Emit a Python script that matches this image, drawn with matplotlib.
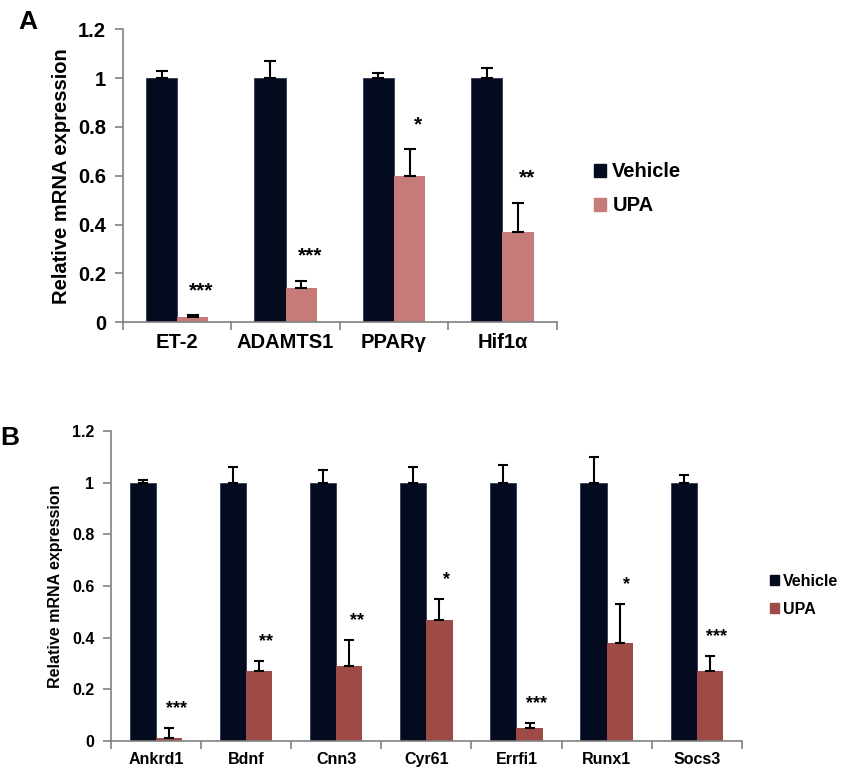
import numpy as np
import matplotlib
matplotlib.use('Agg')
import matplotlib.pyplot as plt
from matplotlib.patches import Patch

plt.rcParams['font.family'] = ['Liberation Sans', 'DejaVu Sans']
plt.rcParams['font.weight'] = 'bold'

# panel A data
genes_a = ['ET-2', 'ADAMTS1', 'PPARγ', 'Hif1α']
veh_a = [1.0, 1.0, 1.0, 1.0]
veh_a_err = [0.03, 0.07, 0.02, 0.04]
upa_a = [0.02, 0.14, 0.60, 0.37]
upa_a_err = [0.01, 0.03, 0.11, 0.12]
stars_a = ['***', '***', '*', '**']

# panel B data
genes_b = ['Ankrd1', 'Bdnf', 'Cnn3', 'Cyr61', 'Errfi1', 'Runx1', 'Socs3']
veh_b = [1.0, 1.0, 1.0, 1.0, 1.0, 1.0, 1.0]
veh_b_err = [0.01, 0.06, 0.05, 0.06, 0.07, 0.10, 0.03]
upa_b = [0.01, 0.27, 0.29, 0.47, 0.05, 0.38, 0.27]
upa_b_err = [0.04, 0.04, 0.10, 0.08, 0.02, 0.15, 0.06]
stars_b = ['***', '**', '**', '*', '***', '*', '***']

navy = '#050b1e'
pink = '#c77b78'
brick = '#9e4a47'
grey = '#808080'


def panel(ax, genes, veh, veh_err, upa, upa_err, stars, upa_col, fs, star_fs, w, cap, star_off):
    n = len(genes)
    x = np.arange(n) + 0.5
    ax.bar(x - w / 2, veh, w, color=navy, edgecolor='#1a2a4a', linewidth=0.5)
    ax.bar(x + w / 2, upa, w, color=upa_col)
    ax.errorbar(x - w / 2, veh, yerr=[np.zeros(n), veh_err], fmt='none',
                ecolor='black', elinewidth=1.5, capsize=cap, capthick=1.5)
    ax.errorbar(x + w / 2, upa, yerr=[np.zeros(n), upa_err], fmt='none',
                ecolor='black', elinewidth=1.5, capsize=cap, capthick=1.5)
    for xi, u, e, s in zip(x, upa, upa_err, stars):
        ax.text(xi + w / 2 + 0.08, u + e + star_off, s, ha='center', va='center',
                fontsize=star_fs, fontweight='bold')
    ax.set_xlim(0, n)
    ax.set_ylim(0, 1.2)
    ax.set_yticks([0, 0.2, 0.4, 0.6, 0.8, 1, 1.2])
    ax.set_yticklabels(['0', '0.2', '0.4', '0.6', '0.8', '1', '1.2'])
    ax.set_xticks(np.arange(n + 1))
    ax.set_xticklabels([])
    ax.set_xticks(x, minor=True)
    ax.set_xticklabels(genes, minor=True)
    ax.tick_params(axis='x', which='minor', length=0, pad=8, labelsize=fs)
    ax.tick_params(axis='x', which='major', length=6, color=grey, width=1.2)
    ax.tick_params(axis='y', length=6, color=grey, width=1.2, labelsize=fs, pad=6)
    for sp in ['top', 'right']:
        ax.spines[sp].set_visible(False)
    for sp in ['left', 'bottom']:
        ax.spines[sp].set_color(grey)
        ax.spines[sp].set_linewidth(1.2)
    ax.set_ylabel('Relative mRNA expression', fontsize=fs, fontweight='bold')


fig = plt.figure(figsize=(8.41, 7.71), dpi=100)

ax_a = fig.add_axes([0.146, 0.582, 0.516, 0.38])
panel(ax_a, genes_a, veh_a, veh_a_err, upa_a, upa_a_err, stars_a, pink, 14.5, 15, 0.286, 4, 0.1)
ax_a.yaxis.set_label_coords(-0.12, 0.5)

ax_b = fig.add_axes([0.132, 0.039, 0.75, 0.402])
panel(ax_b, genes_b, veh_b, veh_b_err, upa_b, upa_b_err, stars_b, brick, 11.5, 13, 0.29, 3.5, 0.075)
ax_b.yaxis.set_label_coords(-0.076, 0.5)

h_a = [Patch(color=navy, label='Vehicle'), Patch(color=pink, label='UPA')]
fig.legend(handles=h_a, loc='center left', bbox_to_anchor=(0.685, 0.755), frameon=False,
           fontsize=14.5, handlelength=0.6, handleheight=0.6, handletextpad=0.3,
           labelspacing=0.75)

h_b = [Patch(color=navy, label='Vehicle'), Patch(color=brick, label='UPA')]
fig.legend(handles=h_b, loc='center left', bbox_to_anchor=(0.898, 0.228), frameon=False,
           fontsize=11.5, handlelength=0.6, handleheight=0.6, handletextpad=0.25,
           labelspacing=0.8)

fig.text(0.022, 0.972, 'A', fontsize=19, fontweight='bold', va='center')
fig.text(0.0, 0.432, 'B', fontsize=19, fontweight='bold', va='center')

fig.savefig('out.png', dpi=100)
